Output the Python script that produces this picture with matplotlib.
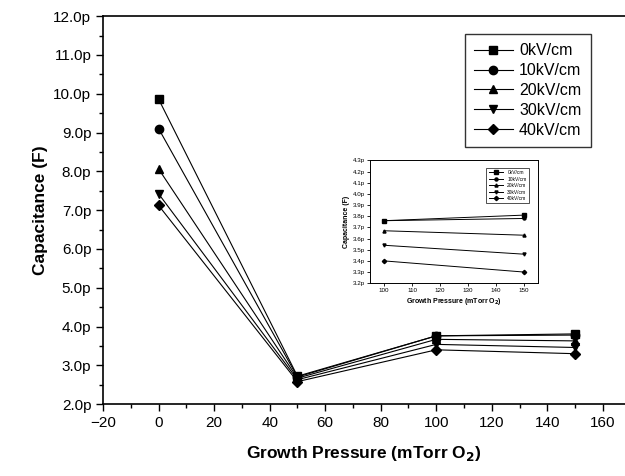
import matplotlib
matplotlib.use('Agg')
import matplotlib.pyplot as plt
from matplotlib.ticker import MultipleLocator, FuncFormatter

plt.rcParams['font.family'] = ['Liberation Sans', 'DejaVu Sans']

# growth pressure (mTorr O2)
pressure = [0, 50, 100, 150]
inset_pressure = [100, 150]

labels = ['0kV/cm', '10kV/cm', '20kV/cm', '30kV/cm', '40kV/cm']
markers = ['s', 'o', '^', 'v', 'D']

# capacitance in pF
cap_0kv = [9.86, 2.72, 3.76, 3.81]
cap_10kv = [9.10, 2.70, 3.76, 3.78]
cap_20kv = [8.06, 2.67, 3.67, 3.63]
cap_30kv = [7.42, 2.63, 3.54, 3.46]
cap_40kv = [7.12, 2.58, 3.40, 3.30]
series = [cap_0kv, cap_10kv, cap_20kv, cap_30kv, cap_40kv]

pfmt = FuncFormatter(lambda v, p: f'{v:.1f}p')

fig = plt.figure(figsize=(6.25, 4.76), dpi=100)
ax = fig.add_axes([0.165, 0.151, 0.835, 0.815])

for vals, m, lab in zip(series, markers, labels):
    ms = 5.0 if m == 'D' else 6.0
    ax.plot(pressure, vals, color='black', lw=0.8, marker=m, ms=ms, label=lab)

ax.set_xlim(-20, 168)
ax.set_ylim(2.0, 12.0)
ax.xaxis.set_major_locator(MultipleLocator(20))
ax.xaxis.set_minor_locator(MultipleLocator(10))
ax.yaxis.set_major_locator(MultipleLocator(1))
ax.yaxis.set_minor_locator(MultipleLocator(0.5))
ax.yaxis.set_major_formatter(pfmt)
ax.tick_params(which='major', direction='out', length=5, width=1, labelsize=11)
ax.tick_params(which='minor', direction='out', length=3, width=1)
ax.spines['right'].set_visible(False)
for s in ['left', 'bottom', 'top']:
    ax.spines[s].set_linewidth(1.2)
ax.set_xlabel('Growth Pressure (mTorr O$_\\mathbf{2}$)', fontsize=12.5, fontweight='bold',
              labelpad=10)
ax.set_ylabel('Capacitance (F)', fontsize=12.5, fontweight='bold')
leg = ax.legend(loc='upper right', bbox_to_anchor=(0.95, 0.975), fontsize=11.5,
                frameon=True, fancybox=False, edgecolor='black', handlelength=2.4,
                borderpad=0.6, labelspacing=0.3, handletextpad=0.4)
leg.get_frame().set_linewidth(1.0)

# inset
axin = fig.add_axes([0.592, 0.405, 0.269, 0.258])
for vals, m, lab in zip(series, markers, labels):
    axin.plot(inset_pressure, vals[2:], color='black', lw=0.7, marker=m, ms=2.2, label=lab)
axin.set_xlim(95, 155)
axin.set_ylim(3.2, 4.3)
axin.xaxis.set_major_locator(MultipleLocator(10))
axin.yaxis.set_major_locator(MultipleLocator(0.1))
axin.yaxis.set_major_formatter(pfmt)
axin.tick_params(direction='out', length=2, width=0.6, labelsize=4.5, pad=1.5)
for s in axin.spines.values():
    s.set_linewidth(0.7)
axin.set_xlabel('Growth Pressure (mTorr O$_\\mathbf{2}$)', fontsize=5, fontweight='bold', labelpad=2)
axin.set_ylabel('Capacitance (F)', fontsize=5, fontweight='bold', labelpad=2)
lg2 = axin.legend(loc='upper right', bbox_to_anchor=(0.96, 0.96), fontsize=3.5, frameon=True,
                  fancybox=False, edgecolor='black', handlelength=3, labelspacing=0.3,
                  borderpad=0.5)
lg2.get_frame().set_linewidth(0.6)

fig.savefig('out.png', dpi=100)
